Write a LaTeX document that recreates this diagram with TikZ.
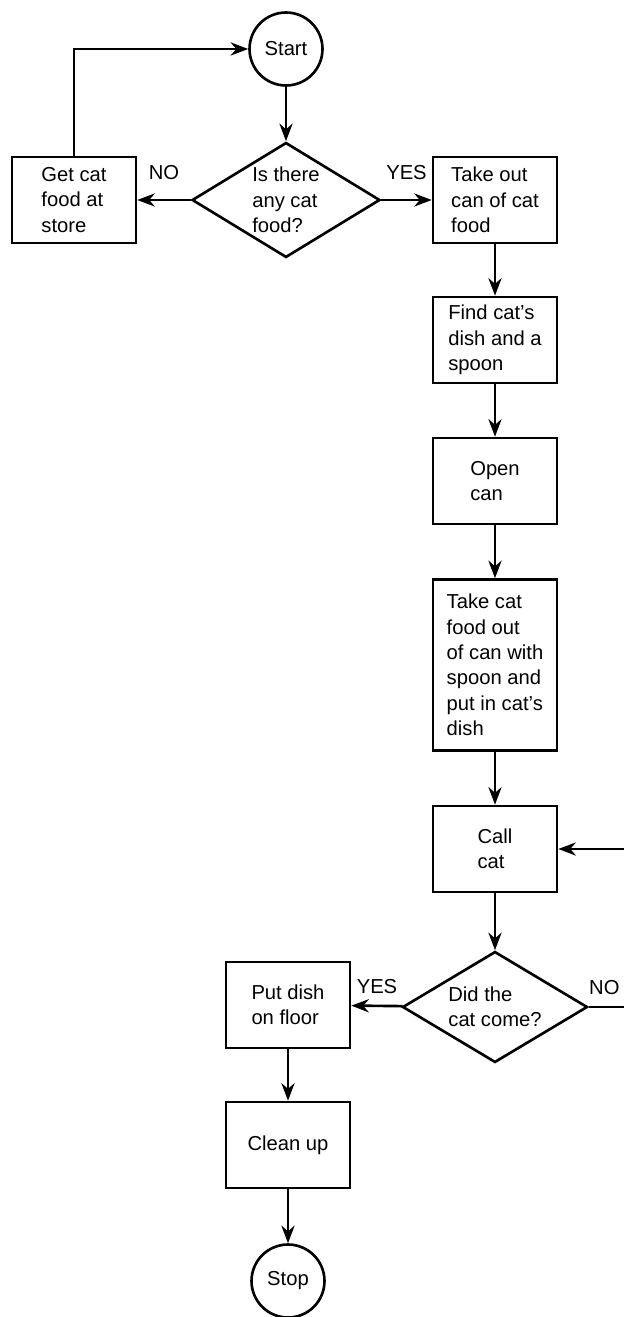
\documentclass[tikz,border=0pt]{standalone}
\usepackage{fontspec}
\setmainfont{Liberation Sans}
\usepackage{tikz}
\usetikzlibrary{arrows.meta, shapes.geometric}

\begin{document}
\begin{tikzpicture}[
    x=0.02cm, y=-0.02cm,
    line width=1.5pt,
    every node/.style={font=\fontsize{11.5}{14.5}\selectfont},
    box/.style={draw, minimum width=2.48cm, minimum height=1.72cm, align=left, inner sep=2pt},
    term/.style={draw, circle, minimum size=1.46cm, inner sep=0pt},
    decide/.style={draw, diamond, aspect=1.6, inner sep=0pt, align=left},
    arr/.style={-{Stealth[length=10pt, width=7.5pt]}},
    lbl/.style={inner sep=0pt},
]
    \useasboundingbox (0,0) rectangle (624,1317);

    % Top: start and first question
    \node[term] (start) at (286,49) {Start};
    \node[decide, minimum width=3.76cm, minimum height=2.3cm] (isfood) at (286,200) {Is there\\any cat\\food?};
    \node[box] (getcat) at (74,200) {Get cat\\food at\\store};
    \node[box] (takeout) at (495,200) {Take out\\can of cat\\food};

    % Right column
    \node[box] (findcat) at (495,340) {Find cat's\\dish and a\\spoon};
    \node[box] (opencan) at (495,481) {Open\\can};
    \node[box, minimum height=3.42cm] (takefood) at (495,665) {Take cat\\food out\\of can with\\spoon and\\put in cat's\\dish};
    \node[box] (call) at (495,849) {Call\\cat};
    \node[decide, minimum width=3.7cm, minimum height=2.22cm] (didcome) at (495,1007) {Did the\\cat come?};
    \coordinate (rim) at (627,1007);

    % Bottom: left column
    \node[box] (putdish) at (288,1005) {Put dish\\on floor};
    \node[box] (cleanup) at (288,1145) {Clean up};
    \node[term] (stop) at (288,1281) {Stop};

    % Arrows with labels
    \draw[arr] (start) -- (isfood);
    \draw[arr] (isfood) -- node[lbl, above=11pt] {NO} (getcat);
    \draw[arr] (isfood) -- node[lbl, above=11pt] {YES} (takeout);
    \draw[arr] (getcat.north) |- (start.west);
    \draw[arr] (takeout) -- (findcat);
    \draw[arr] (findcat) -- (opencan);
    \draw[arr] (opencan) -- (takefood);
    \draw[arr] (takefood) -- (call);
    \draw[arr] (call) -- (didcome);
    \draw[arr] (didcome) -- node[lbl, above=6pt] {YES} (putdish);
    \draw (didcome.east) -- node[lbl, above=6pt, xshift=-2pt] {NO} (rim);
    \draw[arr] (rim) |- (call.east);
    \draw[arr] (putdish) -- (cleanup);
    \draw[arr] (cleanup) -- (stop);
\end{tikzpicture}
\end{document}
